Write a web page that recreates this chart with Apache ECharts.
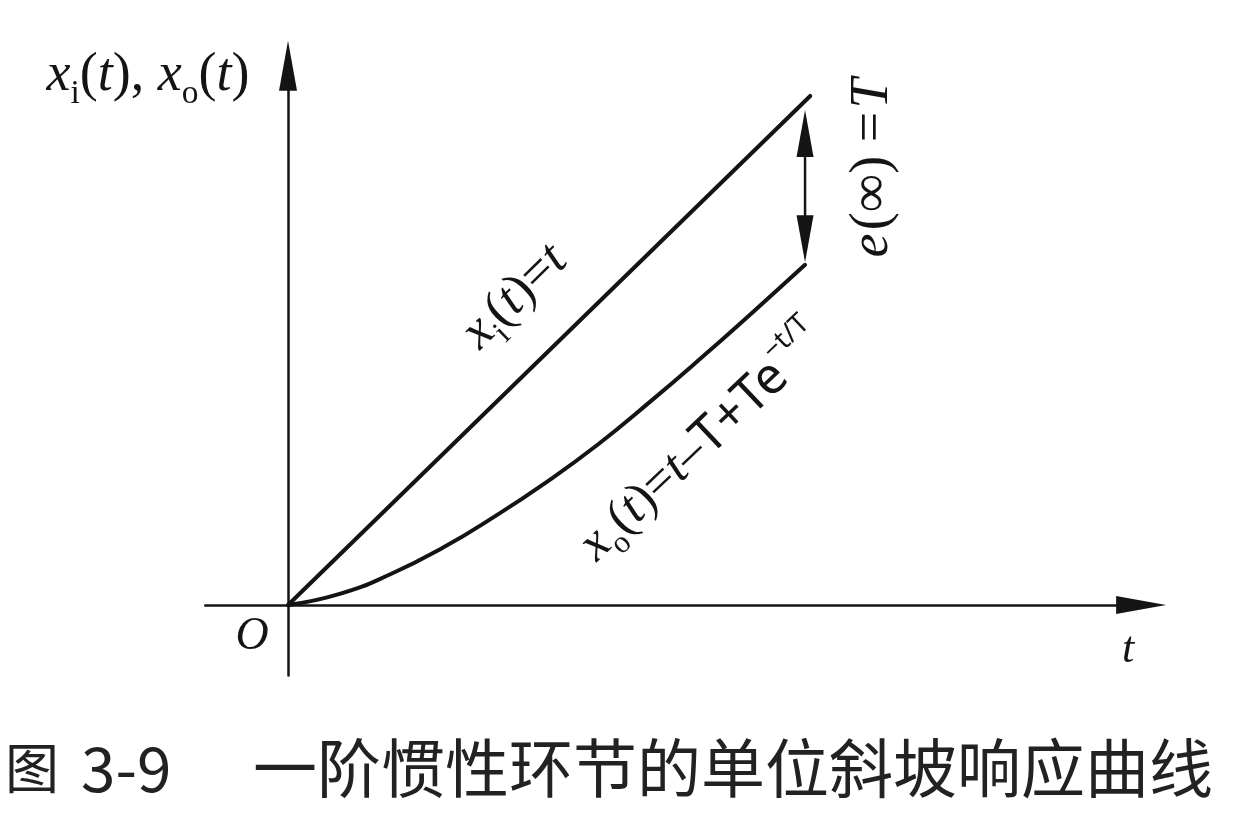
<!DOCTYPE html>
<html>
<head>
<meta charset="utf-8">
<style>
  html, body { margin: 0; padding: 0; background: #ffffff; }
  #chart { width: 1234px; height: 822px; }
</style>
<script src="https://cdn.jsdelivr.net/npm/echarts@6/dist/echarts.min.js"></script>
</head>
<body>
<div id="chart"></div>
<script>
// ---- data (t in arbitrary units, end of plotted range t = 10) ----
const inputT = [0, 10.1];          // x_i(t) = t : straight ramp
const inputX = [0, 10.1];
const outputT = [0, 1, 2, 3, 4, 5, 6, 7, 8, 9, 10];
const outputX = [0, 0.22, 0.62, 1.14, 1.76, 2.44, 3.19, 4.03, 4.91, 5.82, 6.75];
const errorArrowT = [10];          // double arrow e(inf) = T
const errorArrowTop = [9.82];
const errorArrowBottom = [6.80];
const axisRangeX = [-1.6, 16.5];
const axisRangeY = [-1.4, 10.7];

const chart = echarts.init(document.getElementById('chart'), null, { renderer: 'canvas' });

const ink = '#141414';
const serif = '"Liberation Serif", "DejaVu Serif", serif';
const cjk = '"Noto Sans CJK SC", "Noto Sans", sans-serif';

const inputData = inputT.map((t, i) => [t, inputX[i]]);
const outputData = outputT.map((t, i) => [t, outputX[i]]);
const arrowData = errorArrowT.map((t, i) => [t, errorArrowTop[i], errorArrowBottom[i]]);

function mathRich(size) {
  return {
    it: { fontFamily: serif, fontStyle: 'italic', fontSize: size, lineHeight: size * 1.3, fill: ink },
    rm: { fontFamily: serif, fontSize: size, lineHeight: size * 1.3, fill: ink },
    sub: { fontFamily: serif, fontSize: size * 0.62, lineHeight: size * 0.75, verticalAlign: 'bottom', fill: ink },
    sup: { fontFamily: '"Noto Sans", sans-serif', fontSize: size * 0.55, lineHeight: size * 0.9, verticalAlign: 'top', fill: ink },
    sans: { fontFamily: '"Noto Sans", sans-serif', fontSize: size * 1.0, lineHeight: size * 1.3, fill: ink }
  };
}

const axisArrow = {
  show: true,
  onZero: true,
  symbol: ['none', 'triangle'],
  symbolSize: [18, 50],
  lineStyle: { color: ink, width: 2.5 }
};

chart.setOption({
  backgroundColor: '#ffffff',
  animation: false,
  grid: { left: 205.3, right: 92.9, top: 65.7, bottom: 146.4, containLabel: false },
  xAxis: {
    type: 'value', min: axisRangeX[0], max: axisRangeX[1],
    axisLine: axisArrow,
    axisTick: { show: false }, axisLabel: { show: false }, splitLine: { show: false }
  },
  yAxis: {
    type: 'value', min: axisRangeY[0], max: axisRangeY[1],
    axisLine: axisArrow,
    axisTick: { show: false }, axisLabel: { show: false }, splitLine: { show: false }
  },
  series: [
    {
      name: 'xi', type: 'line', data: inputData, showSymbol: false, symbol: 'none',
      lineStyle: { color: ink, width: 4, cap: 'round' }, z: 3
    },
    {
      name: 'xo', type: 'line', data: outputData, showSymbol: false, symbol: 'none', smooth: true,
      lineStyle: { color: ink, width: 4, cap: 'round' }, z: 3
    },
    {
      name: 'error', type: 'custom', data: arrowData, z: 4,
      renderItem: function (params, api) {
        const top = api.coord([api.value(0), api.value(1)]);
        const bot = api.coord([api.value(0), api.value(2)]);
        const len = 47, half = 8.5;
        return {
          type: 'group',
          children: [
            { type: 'line', shape: { x1: top[0], y1: top[1] + 10, x2: bot[0], y2: bot[1] - 10 },
              style: { stroke: ink, lineWidth: 2.5 } },
            { type: 'polygon', shape: { points: [[top[0], top[1]], [top[0] - half, top[1] + len], [top[0] + half, top[1] + len]] },
              style: { fill: ink } },
            { type: 'polygon', shape: { points: [[bot[0], bot[1]], [bot[0] - half, bot[1] - len], [bot[0] + half, bot[1] - len]] },
              style: { fill: ink } }
          ]
        };
      }
    }
  ],
  graphic: [
    { // y-axis title
      type: 'text', x: 148, y: 76,
      style: {
        text: '{it|x}{sub|i}{rm|(}{it|t}{rm|), }{it|x}{sub|o}{rm|(}{it|t}{rm|)}',
        rich: mathRich(54), align: 'center', verticalAlign: 'middle'
      }
    },
    { // origin
      type: 'text', x: 252, y: 637,
      style: { text: 'O', font: 'italic 46px ' + serif, fill: ink, align: 'center', verticalAlign: 'middle' }
    },
    { // x-axis title
      type: 'text', x: 1128, y: 650,
      style: { text: 't', font: 'italic 44px ' + serif, fill: ink, align: 'center', verticalAlign: 'middle' }
    },
    { // x_i(t) = t
      type: 'text', x: 515, y: 297, rotation: Math.PI / 4 * 0.99,
      style: {
        text: '{it|x}{sub|i}{rm|(}{it|t}{rm|)=}{it|t}',
        rich: mathRich(52), align: 'center', verticalAlign: 'middle'
      }
    },
    { // x_o(t) = t - T + T e^{-t/T}
      type: 'text', x: 703, y: 443, rotation: 43.5 * Math.PI / 180,
      style: {
        text: '{it|x}{sub|o}{rm|(}{it|t}{rm|)=}{it|t}{rm|–}{sans|T+Te}{sup|−t/T}',
        rich: mathRich(51), align: 'center', verticalAlign: 'middle'
      }
    },
    { // e(inf) = T
      type: 'text', x: 873, y: 168, rotation: Math.PI / 2,
      style: {
        text: '{it|e} {rm|(∞) =} {it|T}',
        rich: mathRich(54), align: 'center', verticalAlign: 'middle'
      }
    },
    { // caption
      type: 'text', x: 5, y: 768,
      style: { text: '图', font: '54px ' + cjk, fill: '#222', align: 'left', verticalAlign: 'middle' }
    },
    {
      type: 'text', x: 81, y: 768,
      style: { text: '3-9', font: '62px ' + cjk, fill: '#222', align: 'left', verticalAlign: 'middle' }
    },
    {
      type: 'text', x: 1213, y: 768,
      style: { text: '一阶惯性环节的单位斜坡响应曲线', font: '64px ' + cjk, fill: '#222', align: 'right', verticalAlign: 'middle' }
    }
  ]
});
</script>
</body>
</html>
